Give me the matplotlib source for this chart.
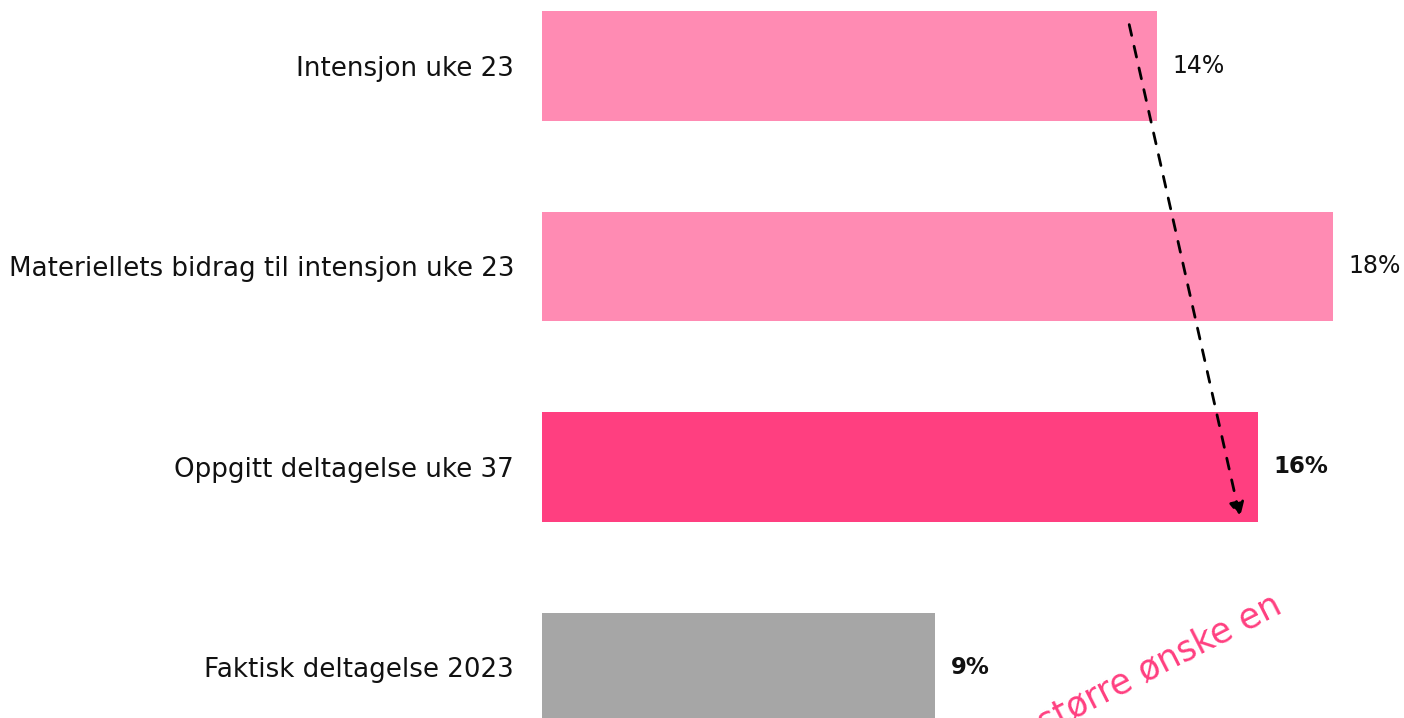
import matplotlib.pyplot as plt

plt.rcParams['font.family'] = ['DejaVu Sans']

# Data
categories = ['Intensjon uke 23', 'Materiellets bidrag til intensjon uke 23',
              'Oppgitt deltagelse uke 37', 'Faktisk deltagelse 2023']
values = [14.0, 18.0, 16.3, 8.95]
value_labels = ['14%', '18%', '16%', '9%']
bold_labels = [False, False, True, True]
colors = ['#FF8BB3', '#FF8BB3', '#FF3F80', '#A6A6A6']

PINK = '#FF3F80'

fig = plt.figure(figsize=(14.04, 7.18), dpi=100)
ax = fig.add_axes([542 / 1404, 0, 1 - 542 / 1404, 1])

y = range(len(categories))
ax.barh(y, values, height=0.545, color=colors)

for i, (v, lab, b) in enumerate(zip(values, value_labels, bold_labels)):
    ax.annotate(lab, (v, i), xytext=(11, 0), textcoords='offset points',
                ha='left', va='center', fontsize=17 if not b else 16.5,
                color='#111111', fontweight='bold' if b else 'normal')

ax.set_yticks(list(y))
ax.set_yticklabels(categories, fontsize=18.8, color='#111111')
ax.tick_params(axis='y', length=0, pad=20)
ax.set_xticks([])
ax.set_xlim(0, (1404 - 542) / 43.94)
ax.set_ylim(3.252, -0.329)
for s in ax.spines.values():
    s.set_visible(False)

# dashed arrow from first bar down to third bar
ax.annotate('', xy=(values[2] - 0.4, 2.264), xytext=(values[0] - 0.65, -0.22),
            arrowprops=dict(arrowstyle='-|>', linestyle=(0, (4, 4)), lw=2,
                            color='black', mutation_scale=22))

# note partly running off the bottom edge, as in the original slide
fig.text(1284 / 1404, 1 - 612 / 718, 'større ønske en', rotation=27,
         rotation_mode='anchor', ha='right', va='baseline',
         fontsize=25, color=PINK)

fig.savefig('out.png', dpi=100)
